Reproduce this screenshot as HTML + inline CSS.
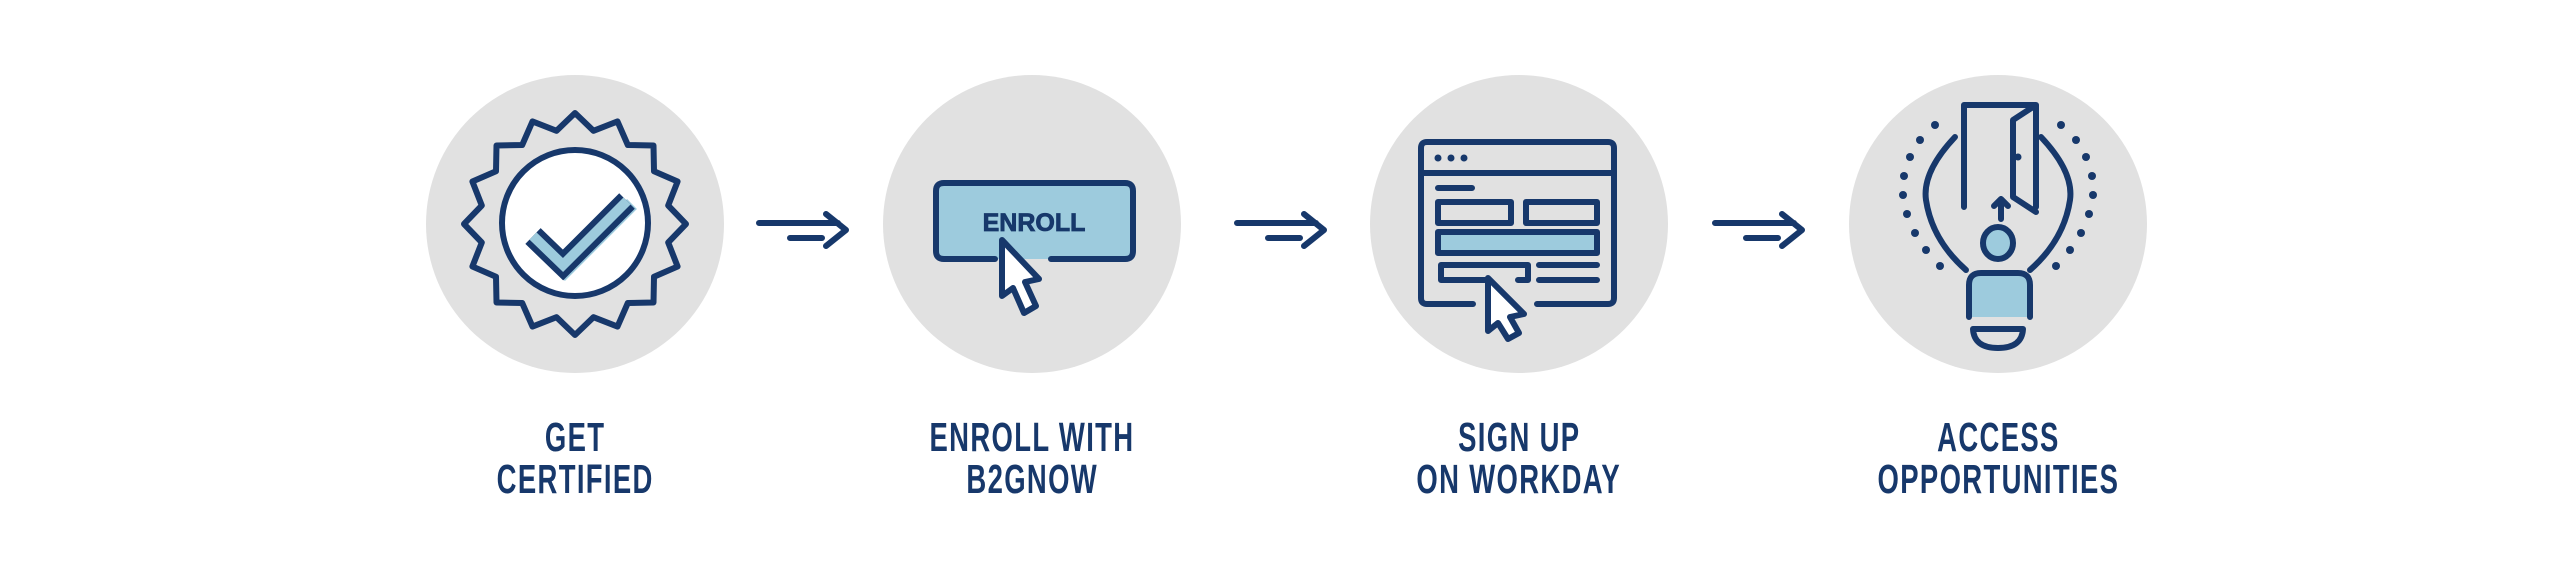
<!DOCTYPE html>
<html><head><meta charset="utf-8">
<style>
html,body{margin:0;padding:0;background:#fff;}
body{width:2560px;height:581px;position:relative;overflow:hidden;}
svg{position:absolute;left:0;top:0;}
.lbl{position:absolute;width:400px;text-align:center;color:#17386b;font-family:"Liberation Sans",sans-serif;font-weight:bold;font-size:41px;line-height:42px;letter-spacing:2px;}
.lbl span{display:inline-block;transform:scaleX(0.67);transform-origin:center;white-space:nowrap;}
</style></head><body>
<svg id="s" width="2560" height="581" viewBox="0 0 2560 581">
<g fill="#e1e1e1">
<circle cx="575" cy="224" r="149"/>
<circle cx="1032" cy="224" r="149"/>
<circle cx="1519" cy="224" r="149"/>
<circle cx="1998" cy="224" r="149"/>
</g>
<g stroke="#17386b" stroke-width="6" fill="none" stroke-linecap="round" stroke-linejoin="round">
<path d="M759 223H838M790 238H822M826 214L846 230L826 246"/>
<path d="M1237 223H1316M1268 238H1300M1304 214L1324 230L1304 246"/>
<path d="M1715 223H1794M1746 238H1778M1782 214L1802 230L1782 246"/>
<polygon id="star" points=""/>
<circle cx="575" cy="223" r="73" fill="#fff"/>
<polyline points="533,238 565,271 632,204" stroke="#9dcbdd" stroke-width="14" stroke-linecap="butt" stroke-linejoin="miter"/>
<polyline points="533,236 563,265 627,201" stroke="#17386b" stroke-width="22" stroke-linecap="butt" stroke-linejoin="miter"/>
<polyline points="533,236 563,265 627,201" stroke="#9dcbdd" stroke-width="10" stroke-linecap="butt" stroke-linejoin="miter"/>
<path d="M995 259H944Q936 259 936 251V191Q936 183 944 183H1125Q1133 183 1133 191V251Q1133 259 1125 259H1051" fill="#9dcbdd"/>
<path d="M1002 240L1002 296L1013 288L1024 313L1036 306L1025 282L1039 279Z" fill="#fff"/>
<path d="M1473 304H1427Q1421 304 1421 298V148Q1421 142 1427 142H1608Q1614 142 1614 148V298Q1614 304 1608 304H1537"/>
<path d="M1421 173H1614M1438 188H1472"/>
<rect x="1438" y="202" width="73" height="21"/>
<rect x="1526" y="202" width="71" height="21"/>
<rect x="1438" y="232" width="159" height="21" fill="#9dcbdd"/>
<path d="M1486 280H1441V265H1528V280H1518M1539 265H1597M1539 280H1597"/>
<path d="M1488 278L1488 331L1498 323L1508 339L1519 333L1510 317L1524 314Z" fill="#fff"/>
<path d="M1964 207V105H2036V207M2036 105L2013 120V197L2036 212"/>
<path d="M2001 219V199M1994 206L2001 199L2008 206"/>
<ellipse cx="1998" cy="243" rx="15" ry="16" fill="#9dcbdd"/>
<path d="M1969 317V285Q1969 273 1981 273H2018Q2030 273 2030 285V317" fill="#9dcbdd"/>
<path d="M1973 329H2023Q2022 348 1998 348Q1974 348 1973 329Z"/>
<path d="M1955 137Q1922 172 1926 200Q1932 240 1966 270"/>
<path d="M2041 137Q2074 172 2070 200Q2064 240 2030 270"/>
</g>
<g fill="#17386b">
<circle cx="1935" cy="125" r="4"/><circle cx="1920" cy="140" r="4"/><circle cx="1910" cy="157" r="4"/><circle cx="1904" cy="176" r="4"/><circle cx="1903" cy="195" r="4"/><circle cx="1907" cy="214" r="4"/><circle cx="1915" cy="233" r="4"/><circle cx="1926" cy="250" r="4"/><circle cx="1940" cy="266" r="4"/>
<circle cx="2061" cy="125" r="4"/><circle cx="2076" cy="140" r="4"/><circle cx="2086" cy="157" r="4"/><circle cx="2092" cy="176" r="4"/><circle cx="2093" cy="195" r="4"/><circle cx="2089" cy="214" r="4"/><circle cx="2081" cy="233" r="4"/><circle cx="2070" cy="250" r="4"/><circle cx="2056" cy="266" r="4"/>
<circle cx="1438" cy="158" r="3.5"/><circle cx="1451" cy="158" r="3.5"/><circle cx="1464" cy="158" r="3.5"/>
<circle cx="2018" cy="157" r="3.5"/>
<text x="1034" y="231" font-family="Liberation Sans,sans-serif" font-weight="bold" font-size="25" text-anchor="middle" stroke="#17386b" stroke-width="0.8">ENROLL</text>
</g>
</svg>
<div class="lbl" style="left:375px;top:416px"><span>GET</span><br><span>CERTIFIED</span></div>
<div class="lbl" style="left:832px;top:416px"><span>ENROLL WITH</span><br><span>B2GNOW</span></div>
<div class="lbl" style="left:1319px;top:416px"><span>SIGN UP</span><br><span>ON WORKDAY</span></div>
<div class="lbl" style="left:1798px;top:416px"><span>ACCESS</span><br><span>OPPORTUNITIES</span></div>
<script>
var p=[],n=16;for(var i=0;i<2*n;i++){var a=-Math.PI/2+i*Math.PI/n,r=i%2?95:111;p.push((575+r*Math.cos(a)).toFixed(1)+","+(224+r*Math.sin(a)).toFixed(1));}
document.getElementById("star").setAttribute("points",p.join(" "));
</script>
</body></html>
